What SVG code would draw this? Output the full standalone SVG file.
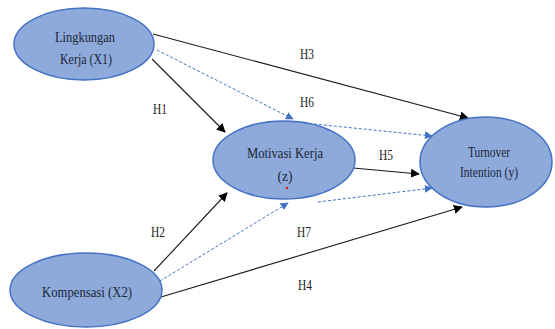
<svg xmlns="http://www.w3.org/2000/svg" width="555" height="329" viewBox="0 0 555 329">
<style>
.node ellipse{fill:#8eaadb;stroke:#4472c4;stroke-width:1.5}
.t{font-family:"Liberation Serif","Times New Roman",serif;font-size:15px;fill:#1b2536;text-anchor:middle}
.lbl{font-family:"Liberation Serif","Times New Roman",serif;font-size:14.5px;fill:#222;text-anchor:middle}
.solid{stroke:#1a1a1a;stroke-width:1.1;fill:none;marker-end:url(#ab)}
.dash{stroke:#4472c4;stroke-width:1;stroke-dasharray:3 2;fill:none;marker-end:url(#ablue)}
</style>
<defs>
<marker id="ab" viewBox="0 0 10 10" refX="9" refY="5" markerWidth="9" markerHeight="9" markerUnits="userSpaceOnUse" orient="auto"><path d="M0,0 L10,5 L0,10 z" fill="#000"/></marker>
<marker id="ablue" viewBox="0 0 10 10" refX="9" refY="5" markerWidth="8" markerHeight="8" markerUnits="userSpaceOnUse" orient="auto"><path d="M0,0 L10,5 L0,10 z" fill="#4472c4"/></marker>
</defs>
<rect width="555" height="329" fill="#fff"/>
<g id="connectors">
<line class="solid" x1="153" y1="34" x2="468" y2="118"/>
<line class="dash" x1="157" y1="50" x2="293" y2="119"/>
<line class="dash" x1="304" y1="123" x2="432" y2="136"/>
<line class="solid" x1="152" y1="59" x2="225" y2="132"/>
<line class="solid" x1="353" y1="168" x2="419" y2="174"/>
<line class="solid" x1="154" y1="271" x2="227" y2="193"/>
<line class="dash" x1="160" y1="281" x2="288" y2="203"/>
<line class="dash" x1="318" y1="202" x2="432" y2="188"/>
<line class="solid" x1="161" y1="297" x2="462" y2="207"/>
</g>
<g id="labels">
<text class="lbl" x="307" y="59" textLength="14" lengthAdjust="spacingAndGlyphs">H3</text>
<text class="lbl" x="307" y="107" textLength="14" lengthAdjust="spacingAndGlyphs">H6</text>
<text class="lbl" x="160" y="114" textLength="14" lengthAdjust="spacingAndGlyphs">H1</text>
<text class="lbl" x="386" y="160" textLength="14" lengthAdjust="spacingAndGlyphs">H5</text>
<text class="lbl" x="158" y="237" textLength="14" lengthAdjust="spacingAndGlyphs">H2</text>
<text class="lbl" x="304" y="237" textLength="14" lengthAdjust="spacingAndGlyphs">H7</text>
<text class="lbl" x="305" y="290" textLength="14" lengthAdjust="spacingAndGlyphs">H4</text>
</g>
<g id="x1" class="node">
<ellipse cx="84" cy="44" rx="70" ry="36"/>
<text class="t" x="85" y="42" textLength="60" lengthAdjust="spacingAndGlyphs">Lingkungan</text>
<text class="t" x="86" y="64" textLength="52" lengthAdjust="spacingAndGlyphs">Kerja (X1)</text>
</g>
<g id="z" class="node">
<ellipse cx="284" cy="160" rx="71" ry="39"/>
<text class="t" x="285" y="158" textLength="76" lengthAdjust="spacingAndGlyphs">Motivasi Kerja</text>
<text class="t" x="285" y="181" textLength="15" lengthAdjust="spacingAndGlyphs">(z)</text>
<circle cx="287" cy="188" r="1.3" fill="#e02020"/>
</g>
<g id="y" class="node">
<ellipse cx="486" cy="162" rx="66" ry="45"/>
<text class="t" x="489" y="157" textLength="42" lengthAdjust="spacingAndGlyphs">Turnover</text>
<text class="t" x="489" y="177" textLength="58" lengthAdjust="spacingAndGlyphs">Intention (y)</text>
</g>
<g id="x2" class="node">
<ellipse cx="86" cy="290" rx="76" ry="37"/>
<text class="t" x="87" y="297" textLength="90" lengthAdjust="spacingAndGlyphs">Kompensasi (X2)</text>
</g>
</svg>
